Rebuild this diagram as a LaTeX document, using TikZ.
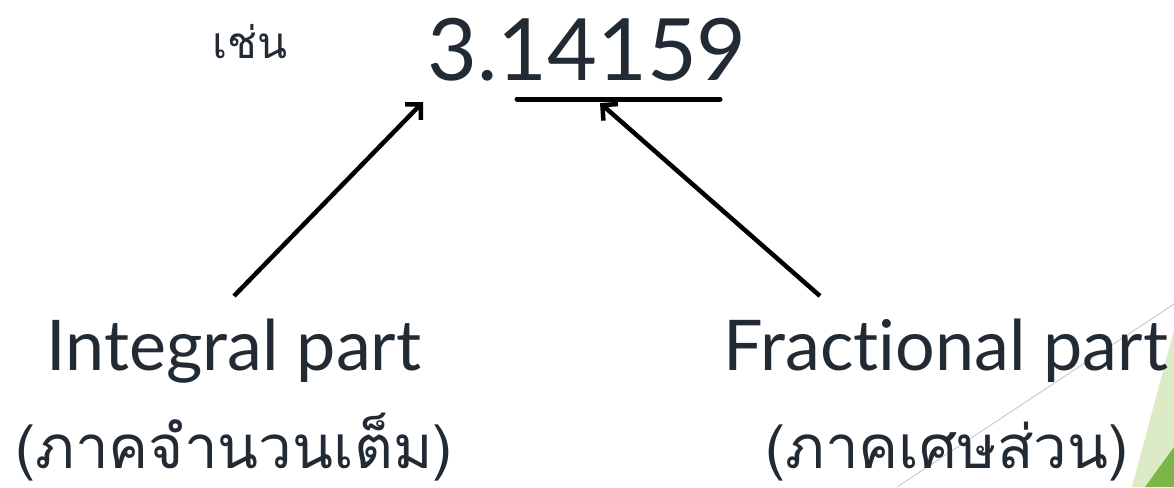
\documentclass[tikz,border=0pt]{standalone}
\usepackage{fontspec}
\setmainfont{Loma}[Script=Thai]
\newfontfamily\latinfont{Lato}[Ligatures={NoCommon,NoDiscretionary}]
\usetikzlibrary{arrows.meta}
\definecolor{ink}{HTML}{222B33}
\definecolor{leafpale}{HTML}{DCEAC6}
\definecolor{leaf}{HTML}{7AB648}
\tikzset{
  label/.style={text=ink, inner sep=0pt, anchor=base},
  pointer/.style={line width=4.5pt, -{Straight Barb[length=11pt,width=22pt,line width=4.5pt]}},
}
\begin{document}
\begin{tikzpicture}[x=1pt,y=-1pt]
\useasboundingbox (0,0) rectangle (1174,487);
% corner decoration
\fill[leafpale] (1132,487) -- (1174,330) -- (1174,487) -- cycle;
\fill[leaf] (1145,487) -- (1174,447) -- (1174,487) -- cycle;
\draw[black!20, line width=1pt] (897,487) -- (1174,304);
% number and labels
\node[label, font=\fontsize{44}{44}\selectfont] (eg) at (250,59) {เช่น};
\node[label, font=\latinfont\fontsize{86}{86}\selectfont] (num) at (587,80) {3.14159};
\coordinate (ulA) at (517,99);
\coordinate (ulB) at (720,99);
\draw[line width=5pt, line cap=round] (ulA) -- (ulB);
\node[label, font=\latinfont\fontsize{70}{70}\selectfont] (ip) at (234,370) {Integral part};
\node[label, font=\latinfont\fontsize{70}{70}\selectfont] (fp) at (946,370) {Fractional part};
\node[label, font=\fontsize{60}{60}\selectfont] (ipth) at (234,468) {(ภาคจำนวนเต็ม)};
\node[label, font=\fontsize{60}{60}\selectfont] (fpth) at (947,468) {(ภาคเศษส่วน)};
\coordinate (a1s) at (234,296);
\coordinate (a1e) at (423,102);
\coordinate (a2s) at (820,296);
\coordinate (a2e) at (600,103);
\draw[pointer] (a1s) -- (a1e);
\draw[pointer] (a2s) -- (a2e);
\end{tikzpicture}
\end{document}
